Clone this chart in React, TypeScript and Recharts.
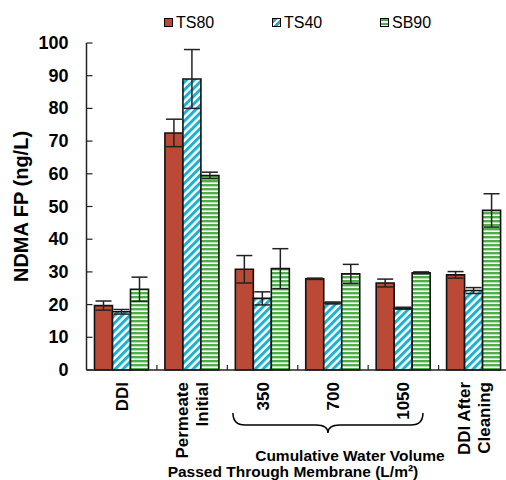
import React from "react";
import {
  BarChart,
  Bar,
  XAxis,
  YAxis,
  ErrorBar,
  Legend,
  Label,
} from "recharts";

// categories and their label lines (as printed under the axis)
const categories = ["DDI", "Permeate Initial", "350", "700", "1050", "DDI After Cleaning"];
const categoryLines = [["DDI"], ["Permeate", "Initial"], ["350"], ["700"], ["1050"], ["DDI After", "Cleaning"]];
const groupTitle = ["Cumulative Water Volume", "Passed Through Membrane (L/m\u00B2)"];

// NDMA FP (ng/L)
const ts80 = [19.7, 72.5, 30.8, 27.9, 26.6, 29.1];
const ts80Err = [1.4, 4.2, 4.2, 0.2, 1.2, 1.0];
const ts40 = [17.8, 89.0, 21.9, 20.5, 18.9, 24.3];
const ts40Err = [0.7, 9.0, 2.0, 0.3, 0.3, 0.9];
const sb90 = [24.7, 59.5, 31.0, 29.4, 29.7, 48.8];
const sb90Err = [3.7, 1.0, 6.1, 2.9, 0.3, 5.1];
const yTicks = [0, 10, 20, 30, 40, 50, 60, 70, 80, 90, 100];

const data = categories.map((c, i) => ({
  name: c,
  ts80: ts80[i],
  ts80Err: ts80Err[i],
  ts40: ts40[i],
  ts40Err: ts40Err[i],
  sb90: sb90[i],
  sb90Err: sb90Err[i],
}));

const RED = "#BA4A36";
const CYAN = "#1BB0CE";
const GREEN = "#4EAF46";
const FONT = "'Liberation Sans', Arial, sans-serif";

const W = 512;
const H = 480;
const margin = { top: 43, right: 3, bottom: 0, left: 0 };
const Y_AXIS_W = 86.5;
const X_AXIS_H = 110;
const step = (W - margin.left - margin.right - Y_AXIS_W) / categories.length;

const legendItems = [
  { name: "TS80", bg: RED },
  { name: "TS40", bg: `repeating-linear-gradient(135deg, ${CYAN} 0 3px, #fff 3px 5px)` },
  { name: "SB90", bg: `repeating-linear-gradient(180deg, ${GREEN} 0 2.5px, #fff 2.5px 4px)` },
];

function YTick({ x, y, payload }: any) {
  return (
    <g>
      <line x1={x} x2={x + 6} y1={y} y2={y} stroke="#222" strokeWidth={1.2} />
      <text
        x={x - 18}
        y={y}
        textAnchor="end"
        dominantBaseline="central"
        fontFamily={FONT}
        fontWeight="bold"
        fontSize={18}
        fill="#000"
      >
        {payload.value}
      </text>
    </g>
  );
}

function XTick({ x, y, index }: any) {
  const lines = categoryLines[index] || [];
  const fs = 17;
  return (
    <g>
      {index < categories.length - 1 && (
        <line x1={x + step / 2} x2={x + step / 2} y1={y} y2={y - 5} stroke="#222" strokeWidth={1.2} />
      )}
      {lines.map((t, k) => {
        const cx = x + (k - (lines.length - 1) / 2) * 20;
        return (
          <text
            key={k}
            transform={`translate(${cx + fs * 0.36}, ${y + 12}) rotate(-90)`}
            textAnchor="end"
            fontFamily={FONT}
            fontWeight="bold"
            fontSize={fs}
            fill="#000"
          >
            {t}
          </text>
        );
      })}
      {index === 3 && (
        <g>
          <path
            d={`M ${x - 100} ${y + 43} Q ${x - 100} ${y + 55} ${x - 88} ${y + 55} L ${x - 17} ${y + 55} Q ${x - 5} ${y + 55} ${x - 5} ${y + 63} Q ${x - 5} ${y + 55} ${x + 7} ${y + 55} L ${x + 78} ${y + 55} Q ${x + 90} ${y + 55} ${x + 90} ${y + 43}`}
            fill="none"
            stroke="#000"
            strokeWidth={1.5}
          />
          <text x={x + 17} y={y + 91} textAnchor="middle" fontFamily={FONT} fontWeight="bold" fontSize={15.5} fill="#000">
            {groupTitle[0]}
          </text>
          <text x={x - 40} y={y + 107} textAnchor="middle" fontFamily={FONT} fontWeight="bold" fontSize={15.5} fill="#000">
            {groupTitle[1]}
          </text>
        </g>
      )}
    </g>
  );
}

function LegendContent() {
  return (
    <div style={{ display: "flex", fontFamily: FONT, fontSize: 16, color: "#000" }}>
      {legendItems.map((it) => (
        <div key={it.name} style={{ width: 108, height: 20, display: "flex", alignItems: "center" }}>
          <span
            style={{
              display: "inline-block",
              width: 9,
              height: 9,
              boxSizing: "border-box",
              border: "1px solid #000",
              background: it.bg,
              marginRight: 3,
            }}
          />
          <span>{it.name}</span>
        </div>
      ))}
    </div>
  );
}

export default function App() {
  return (
    <div style={{ position: "absolute", left: 0, top: 0, width: 506, height: 480, overflow: "hidden", background: "#fff" }}>
      <BarChart width={W} height={H} data={data} margin={margin} barGap={0} barSize={18}>
        <defs>
          <pattern id="ts40Pat" patternUnits="userSpaceOnUse" width={5.5} height={5.5} patternTransform="rotate(-45)">
            <rect width={5.5} height={5.5} fill="#fff" />
            <rect width={5.5} height={3} fill={CYAN} />
          </pattern>
          <pattern id="sb90Pat" patternUnits="userSpaceOnUse" width={4} height={4}>
            <rect width={4} height={4} fill="#fff" />
            <rect width={4} height={2.4} fill={GREEN} />
          </pattern>
        </defs>
        <XAxis
          dataKey="name"
          height={X_AXIS_H}
          interval={0}
          tickLine={false}
          tickSize={0}
          tickMargin={0}
          axisLine={{ stroke: "#222", strokeWidth: 1.5 }}
          tick={<XTick />}
        />
        <XAxis
          xAxisId="top"
          dataKey="name"
          orientation="top"
          height={0}
          tick={false}
          tickLine={false}
          axisLine={{ stroke: "#222", strokeWidth: 1.5 }}
        />
        <YAxis
          width={Y_AXIS_W}
          domain={[0, 100]}
          ticks={yTicks}
          interval={0}
          tickLine={false}
          tickSize={0}
          tickMargin={0}
          axisLine={{ stroke: "#222", strokeWidth: 1.5 }}
          tick={<YTick />}
        >
          <Label
            content={({ viewBox }: any) => (
              <text
                transform={`translate(${viewBox.x + 28}, ${viewBox.y + viewBox.height / 2}) rotate(-90)`}
                textAnchor="middle"
                fontFamily={FONT}
                fontWeight="bold"
                fontSize={20}
                fill="#000"
              >
                NDMA FP (ng/L)
              </text>
            )}
          />
        </YAxis>
        <YAxis
          yAxisId="right"
          orientation="right"
          width={0}
          domain={[0, 100]}
          tick={false}
          tickLine={false}
          axisLine={{ stroke: "#222", strokeWidth: 1.5 }}
        />
        <Legend
          verticalAlign="middle"
          align="center"
          wrapperStyle={{ top: 12.5, left: 164, width: 340 }}
          content={<LegendContent />}
        />
        <Bar dataKey="ts80" name="TS80" fill={RED} stroke="#111" strokeWidth={1.6} isAnimationActive={false}>
          <ErrorBar dataKey="ts80Err" width={8} stroke="#222" strokeWidth={1.5} />
        </Bar>
        <Bar dataKey="ts40" name="TS40" fill="url(#ts40Pat)" stroke="#111" strokeWidth={1.6} isAnimationActive={false}>
          <ErrorBar dataKey="ts40Err" width={8} stroke="#222" strokeWidth={1.5} />
        </Bar>
        <Bar dataKey="sb90" name="SB90" fill="url(#sb90Pat)" stroke="#111" strokeWidth={1.6} isAnimationActive={false}>
          <ErrorBar dataKey="sb90Err" width={8} stroke="#222" strokeWidth={1.5} />
        </Bar>
      </BarChart>
    </div>
  );
}
